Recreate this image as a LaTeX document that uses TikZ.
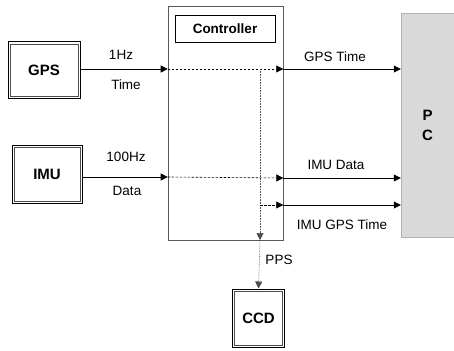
\documentclass[tikz,border=0pt]{standalone}
\usepackage{fontspec}
\setmainfont{Liberation Sans}
\usetikzlibrary{arrows.meta,patterns}
\begin{document}
\begin{tikzpicture}[x=1pt,y=-1pt,
  dev/.style={draw=black,line width=1pt,minimum width=#1,inner sep=0pt,font=\bfseries\fontsize{15}{17}\selectfont},
  inner/.style={draw=gray!60!black,line width=0.6pt},
  lbl/.style={font=\fontsize{13.5}{15}\selectfont,inner sep=1pt},
  arr/.style={-{Triangle[length=7pt,width=7pt]},line width=0.6pt},
  darr/.style={arr,dashed,dash pattern=on 2.5pt off 1.5pt},
  varr/.style={arr,densely dotted,gray!60!black}]
\useasboundingbox (0,0) rectangle (454,350);
% boxes
\node[dev=72pt,minimum height=56pt] (gps) at (44,70) {GPS};
\node[dev=70pt,minimum height=58pt] (imu) at (47,174) {IMU};
\node[dev=52pt,minimum height=58pt] (ccd) at (258.5,318) {CCD};
\draw[inner] ([shift={(2.5pt,-2.5pt)}]gps.north west) rectangle ([shift={(-2.5pt,2.5pt)}]gps.south east);
\draw[inner] ([shift={(2.5pt,-2.5pt)}]imu.north west) rectangle ([shift={(-2.5pt,2.5pt)}]imu.south east);
\draw[inner] ([shift={(2.5pt,-2.5pt)}]ccd.north west) rectangle ([shift={(-2.5pt,2.5pt)}]ccd.south east);
\node[draw=gray!70!black,line width=0.6pt,minimum width=115pt,minimum height=234pt,inner sep=0pt] (ctrl) at (225.5,123) {};
\node[draw=black,line width=0.6pt,minimum width=100pt,minimum height=27pt,inner sep=0pt,font=\bfseries\fontsize{13.5}{15}\selectfont] (ctl) at (225,29) {Controller};
\node[draw=gray!60,fill=gray!30,minimum width=53pt,minimum height=224pt,inner sep=0pt] (pc) at (427.5,125) {};
\node[font=\bfseries\fontsize{15}{17}\selectfont,align=center] (pclbl) at (pc.center) {P\\[3pt]C};
% junctions
\coordinate (g) at (ctrl.west |- 0,69);
\coordinate (i) at (ctrl.west |- 0,177);
\coordinate (ge) at (ctrl.east |- 0,69);
\coordinate (ie) at (ctrl.east |- 0,178);
\coordinate (te) at (ctrl.east |- 0,205);
\coordinate (v1) at (260,69);
\coordinate (v2) at (260,205);
\coordinate (v3) at (260,240);
% inputs
\draw[arr] (gps.east |- g) -- (g);
\draw[arr] (imu.east |- i) -- (i);
% inside controller
\draw[darr] (g) -- (ge);
\draw[darr] (i) -- (ie);
\draw[varr] (v1) -- (v3);
\draw[darr] (v2) -- (te);
\draw[varr] (v3) -- (ccd.north);
% outputs
\draw[arr] (ge) -- (pc.west |- ge);
\draw[arr] (ie) -- (pc.west |- ie);
\draw[arr] (te) -- (pc.west |- te);
% labels
\node[lbl] (l1) at (121,55) {1Hz};
\node[lbl] (l2) at (126,85) {Time};
\node[lbl] (l3) at (126,157) {100Hz};
\node[lbl] (l4) at (127,191) {Data};
\node[lbl] (l5) at (335,57) {GPS Time};
\node[lbl] (l6) at (336,165) {IMU Data};
\node[lbl] (l7) at (342,225) {IMU GPS Time};
\node[lbl] (l8) at (279,260) {PPS};
\end{tikzpicture}
\end{document}
